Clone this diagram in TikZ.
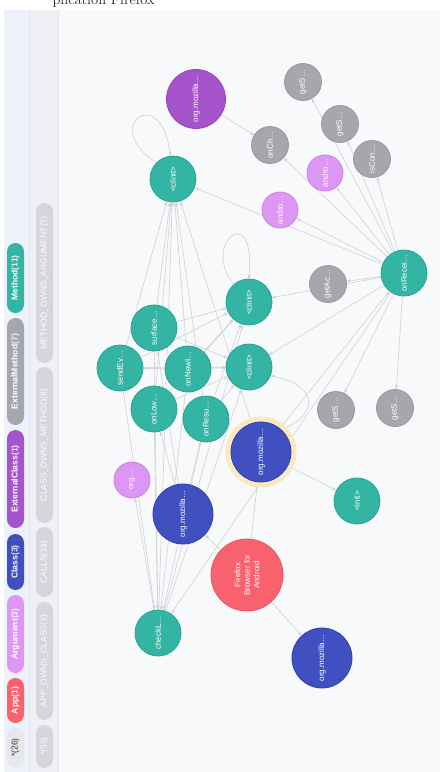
\documentclass[tikz,border=0pt]{standalone}
\usepackage{fontspec}
\newfontfamily\lsans{Liberation Sans}
\usetikzlibrary{arrows.meta}
\pgfdeclarelayer{background}
\pgfdeclarelayer{edgelayer}
\pgfsetlayers{background,edgelayer,main}
\definecolor{tealf}{RGB}{52,180,163}
\definecolor{tealb}{RGB}{40,163,147}
\definecolor{grayf}{RGB}{166,167,174}
\definecolor{grayb}{RGB}{152,153,160}
\definecolor{purpf}{RGB}{165,84,204}
\definecolor{purpb}{RGB}{146,70,186}
\definecolor{argf}{RGB}{222,150,245}
\definecolor{argb}{RGB}{202,128,230}
\definecolor{bluef}{RGB}{65,80,192}
\definecolor{blueb}{RGB}{50,64,172}
\definecolor{redf}{RGB}{247,98,110}
\definecolor{redb}{RGB}{232,82,95}
\definecolor{haloc}{RGB}{250,233,192}
\definecolor{graphbg}{RGB}{248,249,251}
\definecolor{stripa}{RGB}{237,241,249}
\definecolor{stripb}{RGB}{238,240,246}
\definecolor{sepc}{RGB}{226,230,238}
\definecolor{edgec}{RGB}{208,209,213}
\definecolor{relf}{RGB}{214,214,217}
\definecolor{allf}{RGB}{232,232,235}
\definecolor{alltext}{RGB}{55,55,60}
\begin{document}
\begin{tikzpicture}[x=1pt,y=-1pt,
  nd/.style={circle, inner sep=0pt, line width=0.8pt, text=white,
    font=\lsans\fontsize{8}{9.5}\selectfont, rotate=90, align=center},
  med/.style={nd, minimum size=46pt, fill=tealf, draw=tealb},
  ext/.style={nd, minimum size=37pt, fill=grayf, draw=grayb},
  argn/.style={nd, minimum size=36pt, fill=argf, draw=argb},
  cls/.style={nd, minimum size=60pt, fill=bluef, draw=blueb},
  xcls/.style={nd, minimum size=59pt, fill=purpf, draw=purpb},
  appn/.style={nd, minimum size=72pt, fill=redf, draw=redb},
  halon/.style={circle, inner sep=0pt, minimum size=71pt, fill=haloc},
  pill/.style={rounded corners=8.5pt, inner sep=0pt, minimum height=17pt,
    rotate=90, font=\lsans\bfseries\fontsize{8.6}{10}\selectfont, text=white},
  rel/.style={pill, fill=relf, font=\lsans\fontsize{8.6}{10}\selectfont, text=white},
  ar/.style={draw=edgec, line width=0.6pt, -{Stealth[length=4.2pt,width=3.4pt]}}
]
\useasboundingbox (0,0) rectangle (444,772);
% ---------- backgrounds ----------
\begin{pgfonlayer}{background}
\fill[white] (0,0) rectangle (444,772);
\fill[graphbg] (4,10) rectangle (440,772);
\fill[stripa] (4,10) rectangle (29,772);
\fill[stripb] (30,10) rectangle (57.5,772);
\draw[sepc, line width=1pt] (29.5,10) -- (29.5,772);
\draw[sepc, line width=0.6pt] (58,10) -- (58,772);
\end{pgfonlayer}
\node[anchor=base west, font=\fontsize{14.5}{17}\selectfont, text=black!85] (title) at (49,4) {plication Firefox};
% ---------- legend ----------
\node[pill, fill=tealf, minimum width=70pt] (lgMethod) at (15.5,278) {Method\textcolor{white!85!tealf}{(11)}};
\node[pill, fill=grayf, minimum width=107pt] (lgExtM) at (15.5,371.5) {ExternalMethod\textcolor{white!85!grayf}{(7)}};
\node[pill, fill=purpf, minimum width=98pt] (lgExtC) at (15.5,479) {ExternalClass\textcolor{white!85!purpf}{(1)}};
\node[pill, fill=bluef, minimum width=56pt] (lgClass) at (15.5,562) {Class\textcolor{white!85!bluef}{(3)}};
\node[pill, fill=argf, minimum width=78pt] (lgArg) at (15.5,634) {Argument\textcolor{white!85!argf}{(3)}};
\node[pill, fill=redf, minimum width=45pt] (lgApp) at (15.5,700.5) {App\textcolor{white!85!redf}{(1)}};
\node[pill, fill=allf, text=alltext, font=\lsans\fontsize{8.6}{10}\selectfont, minimum width=39pt] (lgAll) at (15.5,747.5) {*(26)};
\node[rel, minimum width=160pt] (rMOA) at (44.5,283) {METHOD\_OWNS\_ARGUMENT(3)};
\node[rel, minimum width=156pt] (rCOM) at (44.5,445) {CLASS\_OWNS\_METHOD(8)};
\node[rel, minimum width=70pt] (rCalls) at (44.5,562) {CALLS(39)};
\node[rel, minimum width=118pt] (rAOC) at (44.5,661) {APP\_OWNS\_CLASS(3)};
\node[rel, minimum width=43pt] (rAll) at (44.5,746.5) {*(53)};
% ---------- graph nodes ----------
\node[xcls] (extcls) at (196,99) {org.mozilla…};
\node[ext] (getSa) at (303,82) {getS…};
\node[ext] (getSb) at (340,124) {getS…};
\node[ext] (isCon) at (372,159) {isCon…};
\node[ext] (onCh) at (270,145) {onCh…};
\node[argn] (androA) at (325,173) {andro…};
\node[argn] (androB) at (280,210) {andro…};
\node[med] (clinitA) at (173,179) {<clinit>};
\node[med] (onRecei) at (404,273) {onRecei…};
\node[ext] (getAc) at (328,284) {getAc…};
\node[med] (clinitB) at (249,302) {<clinit>};
\node[med] (clinitC) at (249,367) {<clinit>};
\node[med] (surface) at (154,328) {surface…};
\node[med] (sendEv) at (120,368) {sendEv…};
\node[med] (onNewI) at (188,369) {onNewI…};
\node[med] (onLow) at (154,409) {onLow…};
\node[med] (onResu) at (206,419) {onResu…};
\node[ext] (getSc) at (336,410) {getS…};
\node[ext] (getSd) at (395,408) {getS…};
\node[halon] (orgHalo) at (261,452) {};
\node[cls] (orgH) at (261,452) {org.mozilla…};
\node[med] (init) at (357,501) {<init>};
\node[argn] (orgArg) at (132,480) {org…};
\node[cls] (orgM) at (183,514) {org.mozilla…};
\node[appn] (firefox) at (247,575) {Firefox\\Browser for\\Android};
\node[med] (checkL) at (158,633) {checkL…};
\node[cls] (orgB) at (322,658) {org.mozilla…};
% ---------- edges ----------
\begin{pgfonlayer}{edgelayer}
% self loops (nodes are rotated: local angle + 90 = page angle)
\draw[ar] (clinitA.45) .. controls (100,128) and (160,80) .. (clinitA.6);
\draw[ar] (clinitB.40) .. controls (200,245) and (256,198) .. (clinitB.0);
% app owns class
\draw[ar] (firefox) -- (orgH);
\draw[ar] (firefox) -- (orgM);
\draw[ar] (firefox) -- (orgB);
% class owns method
\draw[ar] (extcls) -- (onCh);
\draw[ar] (orgH) -- (init);
\draw[ar] (orgH) -- (onRecei);
\draw[ar] (orgH) -- (clinitA);
\draw[ar] (orgH.-42) .. controls (320,415) and (318,385) .. (clinitC.-112);
\draw[ar] (orgM) -- (onLow);
\draw[ar] (orgM) -- (onResu);
\draw[ar] (orgM) -- (surface);
% method owns argument
\draw[ar] (onRecei) -- (androA);
\draw[ar] (onRecei) -- (androB);
\draw[ar] (checkL) -- (orgArg);
% calls from onRecei
\draw[ar] (onRecei) -- (getSa);
\draw[ar] (onRecei) -- (getSb);
\draw[ar] (onRecei) -- (isCon);
\draw[ar] (onRecei) -- (onCh);
\draw[ar] (onRecei) -- (clinitA);
\draw[ar] (onRecei) -- (getAc);
\draw[ar] (onRecei) -- (clinitB);
\draw[ar] (onRecei) -- (clinitC);
\draw[ar] (onRecei) -- (getSc);
\draw[ar] (onRecei) -- (getSd);
\draw[ar] (onRecei) -- (checkL);
% calls in the left cluster
\foreach \s in {sendEv,surface,onNewI,onLow,onResu,checkL}{
  \draw[ar] (\s) -- (clinitA);
  \draw[ar] (\s) -- (clinitB);
  \draw[ar] (\s) -- (clinitC);
}
\foreach \s in {sendEv,surface,onNewI,onLow,onResu}{
  \draw[ar] (\s) -- (checkL);
}
\draw[ar] (onNewI) -- (sendEv);
\end{pgfonlayer}
\end{tikzpicture}
\end{document}
